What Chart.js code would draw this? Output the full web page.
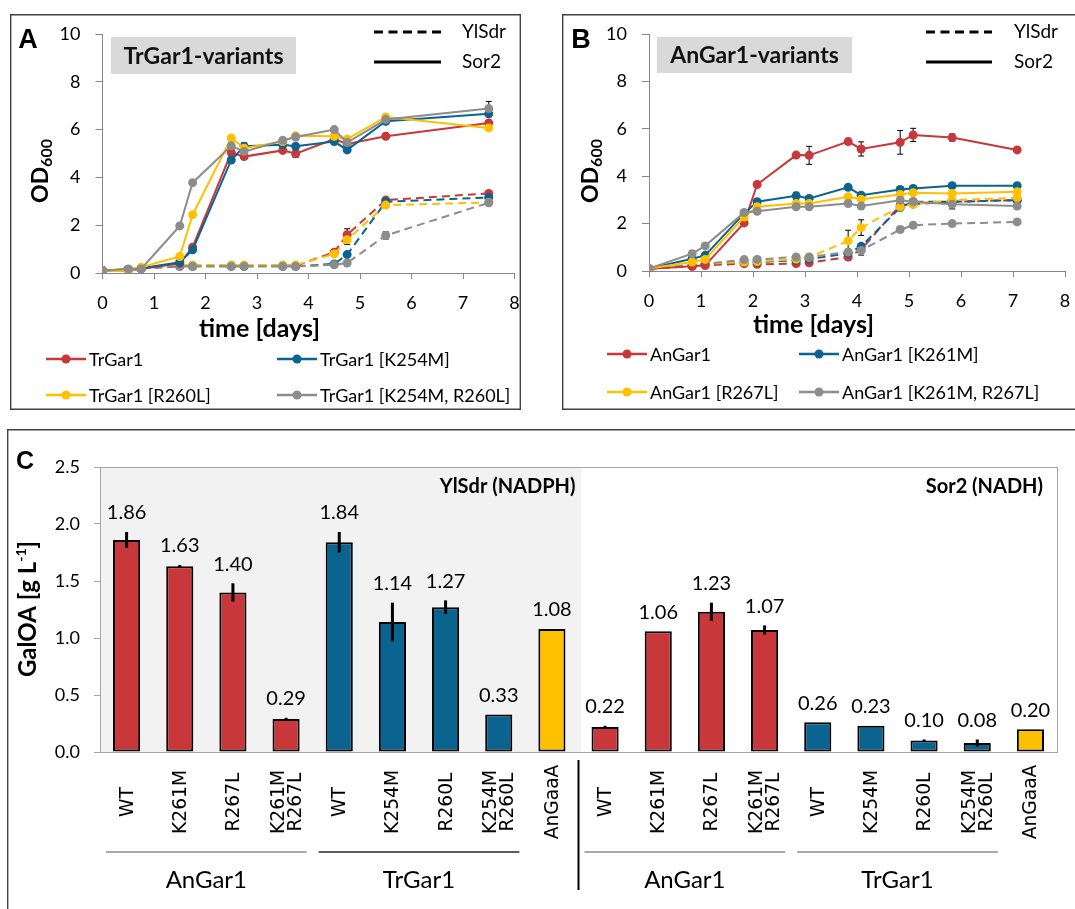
<!DOCTYPE html>
<html>
<head>
<meta charset="utf-8">
<title>Growth and GalOA production of Gar1 variants</title>
<script src="https://cdn.jsdelivr.net/npm/chart.js@4.4.1/dist/chart.umd.min.js"></script>
<style>
  html, body { margin: 0; padding: 0; background: #fff; }
  body { position: relative; width: 1075px; height: 909px; overflow: hidden; }
  canvas { position: absolute; }
</style>
</head>
<body>
<canvas id="panelA" width="511" height="396" style="left:10px;top:14px"></canvas>
<canvas id="panelB" width="513" height="396" style="left:562px;top:14px"></canvas>
<canvas id="panelC" width="1068" height="480" style="left:7px;top:429px"></canvas>
<script>
// ---------------- Panel A: TrGar1 variants, OD600 over time ----------------
const trTimes = [0, 0.5, 0.75, 1.5, 1.75, 2.5, 2.75, 3.5, 3.75, 4.5, 4.75, 5.5, 7.5];
const trNames = ['TrGar1', 'TrGar1 [K254M]', 'TrGar1 [R260L]', 'TrGar1 [K254M, R260L]'];
// Sor2 (solid lines)
const trWT_Sor2     = [0.10, 0.10, 0.17, 0.40, 1.08, 5.04, 4.87, 5.13, 4.99, 5.60, 5.40, 5.72, 6.28];
const trK254M_Sor2  = [0.10, 0.15, 0.20, 0.45, 0.97, 4.73, 5.30, 5.37, 5.30, 5.50, 5.15, 6.35, 6.66];
const trR260L_Sor2  = [0.10, 0.07, 0.24, 0.69, 2.44, 5.65, 5.22, 5.50, 5.74, 5.72, 5.60, 6.53, 6.07];
const trDouble_Sor2 = [0.10, 0.17, 0.17, 1.97, 3.78, 5.32, 5.08, 5.55, 5.69, 6.00, 5.46, 6.42, 6.88];
// YlSdr (dashed lines)
const trWT_YlSdr     = [0.10, 0.15, 0.20, 0.30, 0.30, 0.30, 0.30, 0.30, 0.30, 0.87, 1.60, 3.05, 3.33];
const trK254M_YlSdr  = [0.10, 0.15, 0.20, 0.28, 0.28, 0.28, 0.28, 0.28, 0.28, 0.38, 0.77, 2.98, 3.16];
const trR260L_YlSdr  = [0.10, 0.15, 0.20, 0.33, 0.33, 0.33, 0.33, 0.33, 0.33, 0.80, 1.39, 2.84, 2.95];
const trDouble_YlSdr = [0.10, 0.15, 0.20, 0.28, 0.28, 0.28, 0.28, 0.28, 0.28, 0.34, 0.42, 1.57, 2.94];
// standard deviations (same order as the series above)
const trErr_Sor2 = [
  [0, 0, 0, 0, 0, 0, 0, 0, 0.15, 0, 0, 0, 0],
  [0, 0, 0, 0, 0, 0, 0.15, 0, 0, 0, 0, 0, 0],
  [0, 0, 0, 0, 0, 0, 0, 0, 0, 0, 0, 0, 0],
  [0, 0, 0, 0, 0, 0, 0, 0, 0, 0, 0, 0, 0.30]
];
const trErr_YlSdr = [
  [0, 0, 0, 0, 0, 0, 0, 0, 0, 0, 0.25, 0, 0],
  [0, 0, 0, 0, 0, 0, 0, 0, 0, 0, 0, 0, 0],
  [0, 0, 0, 0, 0, 0, 0, 0, 0, 0, 0.20, 0, 0],
  [0, 0, 0, 0, 0, 0, 0, 0, 0, 0, 0, 0.15, 0]
];

// ---------------- Panel B: AnGar1 variants, OD600 over time ----------------
const anTimes = [0, 0.83, 1.08, 1.83, 2.08, 2.83, 3.08, 3.83, 4.08, 4.83, 5.08, 5.83, 7.08];
const anNames = ['AnGar1', 'AnGar1 [K261M]', 'AnGar1 [R267L]', 'AnGar1 [K261M, R267L]'];
const anWT_Sor2     = [0.10, 0.20, 0.24, 2.03, 3.65, 4.89, 4.88, 5.46, 5.15, 5.43, 5.74, 5.63, 5.11];
const anK261M_Sor2  = [0.10, 0.52, 0.66, 2.43, 2.92, 3.17, 3.06, 3.53, 3.20, 3.44, 3.48, 3.60, 3.60];
const anR267L_Sor2  = [0.10, 0.38, 0.49, 2.28, 2.71, 2.85, 2.85, 3.13, 3.03, 3.23, 3.30, 3.27, 3.34];
const anDouble_Sor2 = [0.10, 0.73, 1.06, 2.47, 2.52, 2.71, 2.71, 2.85, 2.74, 2.99, 2.92, 2.82, 2.74];
const anWT_YlSdr     = [0.10, 0.20, 0.24, 0.31, 0.28, 0.31, 0.35, 0.59, 0.90, 2.78, 2.82, 2.92, 2.99];
const anK261M_YlSdr  = [0.10, 0.25, 0.30, 0.38, 0.38, 0.45, 0.50, 0.75, 1.04, 2.68, 2.92, 2.92, 2.99];
const anR267L_YlSdr  = [0.10, 0.25, 0.30, 0.38, 0.40, 0.50, 0.58, 1.27, 1.83, 2.71, 2.82, 2.99, 3.09];
const anDouble_YlSdr = [0.10, 0.25, 0.30, 0.48, 0.49, 0.59, 0.59, 0.80, 0.87, 1.75, 1.93, 2.00, 2.07];
const anErr_Sor2 = [
  [0, 0, 0, 0, 0, 0, 0.38, 0.05, 0.30, 0.50, 0.28, 0.15, 0],
  [0, 0, 0, 0, 0, 0.15, 0, 0, 0, 0, 0, 0, 0],
  [0, 0, 0, 0, 0, 0, 0, 0, 0, 0, 0, 0, 0],
  [0, 0, 0, 0, 0, 0, 0, 0, 0, 0, 0, 0.20, 0]
];
const anErr_YlSdr = [
  [0, 0, 0, 0, 0, 0, 0, 0, 0, 0, 0, 0, 0],
  [0, 0, 0, 0, 0, 0, 0, 0, 0, 0, 0, 0, 0],
  [0, 0, 0, 0, 0, 0, 0, 0.45, 0.33, 0, 0, 0, 0],
  [0, 0, 0, 0, 0, 0, 0, 0, 0.20, 0, 0, 0, 0]
];

// ---------------- Panel C: GalOA titres ----------------
const cCategories = ['WT', 'K261M', 'R267L', ['K261M', 'R267L'], 'WT', 'K254M', 'R260L', ['K254M', 'R260L'], 'AnGaaA',
                     'WT', 'K261M', 'R267L', ['K261M', 'R267L'], 'WT', 'K254M', 'R260L', ['K254M', 'R260L'], 'AnGaaA'];
const cEnzyme = ['AnGar1', 'AnGar1', 'AnGar1', 'AnGar1', 'TrGar1', 'TrGar1', 'TrGar1', 'TrGar1', 'AnGaaA',
                 'AnGar1', 'AnGar1', 'AnGar1', 'AnGar1', 'TrGar1', 'TrGar1', 'TrGar1', 'TrGar1', 'AnGaaA'];
const cReductase = ['YlSdr (NADPH)', 'YlSdr (NADPH)', 'YlSdr (NADPH)', 'YlSdr (NADPH)', 'YlSdr (NADPH)', 'YlSdr (NADPH)', 'YlSdr (NADPH)', 'YlSdr (NADPH)', 'YlSdr (NADPH)',
                    'Sor2 (NADH)', 'Sor2 (NADH)', 'Sor2 (NADH)', 'Sor2 (NADH)', 'Sor2 (NADH)', 'Sor2 (NADH)', 'Sor2 (NADH)', 'Sor2 (NADH)', 'Sor2 (NADH)'];
const cValues = [1.86, 1.63, 1.40, 0.29, 1.84, 1.14, 1.27, 0.33, 1.08,
                 0.22, 1.06, 1.23, 1.07, 0.26, 0.23, 0.10, 0.08, 0.20];
const cErrors = [0.07, 0.01, 0.08, 0.01, 0.09, 0.17, 0.06, 0, 0,
                 0.01, 0, 0.08, 0.04, 0, 0, 0.01, 0.03, 0];
const cYTicks = [0, 0.5, 1.0, 1.5, 2.0, 2.5];

// ---------------- styling ----------------
const SERIES_COLORS = ['#C8373A', '#0B6490', '#FFC000', '#8C8C8C'];
const ENZYME_COLORS = { AnGar1: '#C8373A', TrGar1: '#0B6490', AnGaaA: '#FFC000' };
const TEXT = '#000';
const AXIS = '#868686';
const BOX = '#404040';
const SANS = 'Lato';

function drawRotatedParts(ctx, x, y, parts) {
  // draws text pieces rotated by -90 degrees, centred on (x, y)
  let total = 0;
  parts.forEach(p => { ctx.font = p.font; p.w = ctx.measureText(p.text).width; total += p.w; });
  ctx.save();
  ctx.translate(x, y);
  ctx.rotate(-Math.PI / 2);
  ctx.textAlign = 'left';
  ctx.textBaseline = 'middle';
  ctx.fillStyle = TEXT;
  let cx = -total / 2;
  parts.forEach(p => { ctx.font = p.font; ctx.fillText(p.text, cx, p.dy || 0); cx += p.w; });
  ctx.restore();
}

// keep tick-label overhang from shrinking the fixed plot rectangle
function noScalePadding(s) {
  s.paddingLeft = 0; s.paddingRight = 0; s.paddingTop = 0; s.paddingBottom = 0;
}

function growthDecor(L) {
  return {
    id: 'growthDecor',
    beforeDatasetsDraw(chart) {
      const ctx = chart.ctx, ys = chart.scales.y;
      ctx.save();
      ctx.strokeStyle = '#000';
      ctx.lineWidth = 1;
      chart.data.datasets.forEach((ds, di) => {
        if (!ds.errors) return;
        const meta = chart.getDatasetMeta(di);
        ds.errors.forEach((e, k) => {
          if (!e) return;
          const pt = meta.data[k];
          const v = ds.data[k].y;
          const yt = ys.getPixelForValue(v + e), yb = ys.getPixelForValue(v - e);
          ctx.beginPath();
          ctx.moveTo(pt.x, yt); ctx.lineTo(pt.x, yb);
          ctx.moveTo(pt.x - 3, yt); ctx.lineTo(pt.x + 3, yt);
          ctx.moveTo(pt.x - 3, yb); ctx.lineTo(pt.x + 3, yb);
          ctx.stroke();
        });
      });
      ctx.restore();
    },
    afterDraw(chart) {
      const ctx = chart.ctx, W = chart.width, H = chart.height;
      ctx.save();
      // frame
      ctx.strokeStyle = BOX;
      ctx.lineWidth = 1.4;
      ctx.beginPath();
      if (L.closedRight) {
        ctx.rect(0.7, 0.7, W - 1.4, H - 1.4);
      } else {
        ctx.moveTo(W, 0.7); ctx.lineTo(0.7, 0.7); ctx.lineTo(0.7, H - 0.7); ctx.lineTo(W, H - 0.7);
      }
      ctx.stroke();
      // panel letter
      ctx.fillStyle = TEXT;
      ctx.font = 'bold 27px "Liberation Sans"';
      ctx.textAlign = 'center';
      ctx.textBaseline = 'middle';
      ctx.fillText(L.letter, L.letterPos[0], L.letterPos[1]);
      // title tag
      const tb = L.titleBox;
      ctx.fillStyle = '#D9D9D9';
      ctx.fillRect(tb[0], tb[1], tb[2], tb[3]);
      ctx.fillStyle = '#111';
      ctx.font = 'bold 23px ' + SANS;
      ctx.textAlign = 'center';
      ctx.fillText(L.title, tb[0] + tb[2] / 2, tb[1] + tb[3] / 2 + 1);
      // line-style key
      ctx.strokeStyle = '#000';
      ctx.lineWidth = 3;
      ctx.setLineDash([9, 5.5]);
      ctx.beginPath(); ctx.moveTo(L.key.x0, L.key.y1); ctx.lineTo(L.key.x1, L.key.y1); ctx.stroke();
      ctx.setLineDash([]);
      ctx.beginPath(); ctx.moveTo(L.key.x0, L.key.y2); ctx.lineTo(L.key.x1, L.key.y2); ctx.stroke();
      ctx.fillStyle = TEXT;
      ctx.font = '19px ' + SANS;
      ctx.textAlign = 'left';
      ctx.fillText('YlSdr', L.key.tx, L.key.y1);
      ctx.fillText('Sor2', L.key.tx, L.key.y2);
      // axis titles
      drawRotatedParts(ctx, L.yTitle[0], L.yTitle[1], [
        { text: 'OD', font: 'bold 23px ' + SANS },
        { text: '600', font: 'bold 16px ' + SANS, dy: 6 }
      ]);
      ctx.fillStyle = TEXT;
      ctx.font = 'bold 25px ' + SANS;
      ctx.textAlign = 'left';
      ctx.textBaseline = 'middle';
      ctx.fillText('time [days]', L.xTitle[0], L.xTitle[1]);
      // series legend
      L.names.forEach((name, i) => {
        const col = i % 2, row = Math.floor(i / 2);
        const lx = L.legend.cols[col], ly = L.legend.rows[row];
        ctx.strokeStyle = SERIES_COLORS[i];
        ctx.lineWidth = 2.5;
        ctx.beginPath(); ctx.moveTo(lx, ly); ctx.lineTo(lx + L.legend.len, ly); ctx.stroke();
        ctx.fillStyle = SERIES_COLORS[i];
        ctx.beginPath(); ctx.arc(lx + L.legend.len / 2, ly, 4.5, 0, Math.PI * 2); ctx.fill();
        ctx.fillStyle = TEXT;
        ctx.font = '18px ' + SANS;
        ctx.textAlign = 'left';
        ctx.fillText(name, lx + L.legend.len + 3, ly + 1);
      });
      ctx.restore();
    }
  };
}

function buildGrowthChart(canvasId, times, names, sor2, ylsdr, sor2Err, ylsdrErr, L) {
  const el = document.getElementById(canvasId);
  const W = el.width, H = el.height;
  const make = (vals, errs, i, dashed) => ({
    label: names[i] + (dashed ? ' YlSdr' : ' Sor2'),
    data: times.map((t, k) => ({ x: t, y: vals[k] })),
    errors: errs[i],
    borderColor: SERIES_COLORS[i],
    backgroundColor: SERIES_COLORS[i],
    pointBackgroundColor: SERIES_COLORS[i],
    pointBorderColor: SERIES_COLORS[i],
    pointBorderWidth: 0,
    pointRadius: 4.5,
    borderWidth: 2,
    borderDash: dashed ? [8, 5] : [],
    tension: 0
  });
  // dataset 0 is painted last: solid series first, grey variant on top
  const datasets = [];
  for (let i = names.length - 1; i >= 0; i--) datasets.push(make(sor2[i], sor2Err, i, false));
  for (let i = names.length - 1; i >= 0; i--) datasets.push(make(ylsdr[i], ylsdrErr, i, true));
  const tickFont = { family: SANS, size: 18 };
  return new Chart(el, {
    type: 'line',
    data: { datasets },
    options: {
      responsive: false,
      devicePixelRatio: 1,
      animation: false,
      events: [],
      layout: { padding: { top: L.plot.top, right: W - L.plot.right, left: 0, bottom: 0 } },
      plugins: { legend: { display: false }, tooltip: { enabled: false } },
      scales: {
        x: {
          type: 'linear', min: 0, max: 8,
          ticks: { stepSize: 1, padding: 13, color: TEXT, font: tickFont, maxRotation: 0 },
          grid: { drawOnChartArea: false, drawTicks: true, tickLength: 6, color: AXIS },
          border: { color: AXIS },
          afterFit: s => { s.height = H - L.plot.bottom; noScalePadding(s); }
        },
        y: {
          min: 0, max: 10,
          ticks: { stepSize: 2, padding: 15, color: TEXT, font: tickFont },
          grid: { drawOnChartArea: false, drawTicks: true, tickLength: 7, color: AXIS },
          border: { color: AXIS },
          afterFit: s => { s.width = L.plot.left; noScalePadding(s); }
        }
      }
    },
    plugins: [growthDecor(Object.assign({ names }, L))]
  });
}

buildGrowthChart('panelA', trTimes, trNames,
  [trWT_Sor2, trK254M_Sor2, trR260L_Sor2, trDouble_Sor2],
  [trWT_YlSdr, trK254M_YlSdr, trR260L_YlSdr, trDouble_YlSdr],
  trErr_Sor2, trErr_YlSdr,
  {
    plot: { left: 92.5, right: 504.5, top: 20, bottom: 259 },
    closedRight: true,
    letter: 'A', letterPos: [18, 27],
    title: 'TrGar1-variants', titleBox: [101, 23, 185, 37],
    key: { x0: 364, x1: 431, y1: 18, y2: 48, tx: 452 },
    yTitle: [31, 157], xTitle: [189, 315],
    legend: { cols: [36, 267], rows: [345, 381], len: 40 }
  });

buildGrowthChart('panelB', anTimes, anNames,
  [anWT_Sor2, anK261M_Sor2, anR267L_Sor2, anDouble_Sor2],
  [anWT_YlSdr, anK261M_YlSdr, anR267L_YlSdr, anDouble_YlSdr],
  anErr_Sor2, anErr_YlSdr,
  {
    plot: { left: 87, right: 503, top: 20, bottom: 257 },
    closedRight: false,
    letter: 'B', letterPos: [19, 27],
    title: 'AnGar1-variants', titleBox: [95, 23, 195, 36],
    key: { x0: 364, x1: 430, y1: 18, y2: 48, tx: 452 },
    yTitle: [29, 157], xTitle: [191, 311],
    legend: { cols: [45, 237], rows: [340, 378], len: 40 }
  });

// ---------------- bar chart ----------------
(function () {
  const el = document.getElementById('panelC');
  const W = el.width, H = el.height;
  const plot = { left: 93, right: 1050, top: 38, bottom: 323 };
  const groupLineColors = ['#8C8C8C', '#262626', '#8C8C8C', '#8C8C8C'];

  const decor = {
    id: 'barDecor',
    beforeDraw(chart) {
      const ctx = chart.ctx, xs = chart.scales.x, a = chart.chartArea;
      // shaded block behind the first reductase group
      const n = cReductase.filter(r => r === cReductase[0]).length;
      const edge = (xs.getPixelForValue(n - 1) + xs.getPixelForValue(n)) / 2;
      ctx.save();
      ctx.fillStyle = '#F2F2F2';
      ctx.fillRect(a.left + 1, a.top, edge - a.left + 2, a.bottom - a.top);
      ctx.restore();
    },
    afterDatasetsDraw(chart) {
      const ctx = chart.ctx, ys = chart.scales.y;
      const meta = chart.getDatasetMeta(0);
      ctx.save();
      // error bars
      ctx.strokeStyle = '#000';
      ctx.lineWidth = 3;
      cValues.forEach((v, i) => {
        const e = cErrors[i];
        if (!e) return;
        const x = meta.data[i].x;
        ctx.beginPath();
        ctx.moveTo(x, ys.getPixelForValue(v + e));
        ctx.lineTo(x, ys.getPixelForValue(v - e));
        ctx.stroke();
      });
      // value labels
      ctx.fillStyle = TEXT;
      ctx.font = '20px ' + SANS;
      ctx.textAlign = 'center';
      ctx.textBaseline = 'middle';
      cValues.forEach((v, i) => {
        const x = meta.data[i].x;
        ctx.fillText(v.toFixed(2), x, ys.getPixelForValue(v + cErrors[i]) - 19);
      });
      ctx.restore();
    },
    afterDraw(chart) {
      const ctx = chart.ctx, xs = chart.scales.x, a = chart.chartArea;
      const half = (xs.getPixelForValue(1) - xs.getPixelForValue(0)) / 2;
      ctx.save();
      // plot frame (top and right)
      ctx.strokeStyle = '#A6A6A6';
      ctx.lineWidth = 1;
      ctx.beginPath();
      ctx.moveTo(a.left - 6, a.top + 0.5); ctx.lineTo(a.right + 0.5, a.top + 0.5); ctx.lineTo(a.right + 0.5, a.bottom);
      ctx.stroke();
      // reductase headings
      const n = cReductase.filter(r => r === cReductase[0]).length;
      const edge = (xs.getPixelForValue(n - 1) + xs.getPixelForValue(n)) / 2;
      ctx.fillStyle = TEXT;
      ctx.font = 'bold 20px ' + SANS;
      ctx.textAlign = 'right';
      ctx.textBaseline = 'middle';
      ctx.fillText(cReductase[0], edge - 3, a.top + 20);
      ctx.fillText(cReductase[cReductase.length - 1], a.right - 14, a.top + 20);
      // rotated category labels, stretched so that 'K261M' runs about 64 px
      ctx.font = '19px "DejaVu Sans", Verdana, sans-serif';
      ctx.textAlign = 'center';
      ctx.textBaseline = 'middle';
      const stretch = Math.min(1.5, Math.max(0.7, 64 / ctx.measureText('K261M').width));
      cCategories.forEach((lab, i) => {
        const cx = xs.getPixelForValue(i);
        const lines = Array.isArray(lab) ? lab : [lab];
        lines.forEach((ln, j) => {
          const off = (j - (lines.length - 1) / 2) * 17;
          ctx.save();
          ctx.translate(cx + off, a.bottom + 50);
          ctx.rotate(-Math.PI / 2);
          ctx.scale(stretch, 1);
          ctx.fillText(ln, 0, 1);
          ctx.restore();
        });
      });
      // enzyme groups: underline + name
      let g = 0, start = 0;
      for (let i = 1; i <= cEnzyme.length; i++) {
        if (i === cEnzyme.length || cEnzyme[i] !== cEnzyme[start]) {
          const end = i - 1;
          if (end > start) {
            const x0 = xs.getPixelForValue(start) - half + 6, x1 = xs.getPixelForValue(end) + half - 6;
            ctx.strokeStyle = groupLineColors[g % groupLineColors.length];
            ctx.lineWidth = 1.5;
            ctx.beginPath(); ctx.moveTo(x0, a.bottom + 100); ctx.lineTo(x1, a.bottom + 100); ctx.stroke();
            ctx.fillStyle = TEXT;
            ctx.font = '24px ' + SANS;
            ctx.textAlign = 'center';
            ctx.fillText(cEnzyme[start], (x0 + x1) / 2, a.bottom + 128);
            g++;
          }
          start = i;
        }
      }
      // separator between reductase groups
      ctx.strokeStyle = '#000';
      ctx.lineWidth = 2;
      ctx.beginPath(); ctx.moveTo(edge, a.bottom + 8); ctx.lineTo(edge, a.bottom + 138); ctx.stroke();
      // panel letter and axis title
      ctx.fillStyle = TEXT;
      ctx.font = 'bold 25px "Liberation Sans"';
      ctx.textAlign = 'center';
      ctx.fillText('C', 18, 33);
      drawRotatedParts(ctx, 21, 180, [
        { text: 'GalOA [g L', font: 'bold 24px ' + SANS },
        { text: '-1', font: 'bold 14px ' + SANS, dy: -7 },
        { text: ']', font: 'bold 24px ' + SANS }
      ]);
      // panel frame (left and top)
      ctx.strokeStyle = BOX;
      ctx.lineWidth = 1.4;
      ctx.beginPath(); ctx.moveTo(0.7, H); ctx.lineTo(0.7, 0.7); ctx.lineTo(W, 0.7); ctx.stroke();
      ctx.restore();
    }
  };

  new Chart(el, {
    type: 'bar',
    data: {
      labels: cCategories.map(l => Array.isArray(l) ? l.join(' ') : l),
      datasets: [{
        data: cValues,
        backgroundColor: cEnzyme.map(e => ENZYME_COLORS[e]),
        borderColor: '#000',
        borderWidth: 2,
        borderSkipped: false,
        barPercentage: 0.51,
        categoryPercentage: 1
      }]
    },
    options: {
      responsive: false,
      devicePixelRatio: 1,
      animation: false,
      events: [],
      layout: { padding: { top: plot.top, right: W - plot.right, left: 0, bottom: 0 } },
      plugins: { legend: { display: false }, tooltip: { enabled: false } },
      scales: {
        x: {
          ticks: { display: false },
          grid: { display: false },
          border: { color: '#A6A6A6' },
          afterFit: s => { s.height = H - plot.bottom; noScalePadding(s); }
        },
        y: {
          min: cYTicks[0], max: cYTicks[cYTicks.length - 1],
          afterBuildTicks: s => { s.ticks = cYTicks.map(v => ({ value: v })); },
          ticks: { padding: 14, color: TEXT, font: { family: SANS, size: 18 }, callback: v => Number(v).toFixed(1) },
          grid: { drawOnChartArea: false, drawTicks: true, tickLength: 6, color: '#A6A6A6' },
          border: { color: '#A6A6A6' },
          afterFit: s => { s.width = plot.left; noScalePadding(s); }
        }
      }
    },
    plugins: [decor]
  });
})();
</script>
</body>
</html>
